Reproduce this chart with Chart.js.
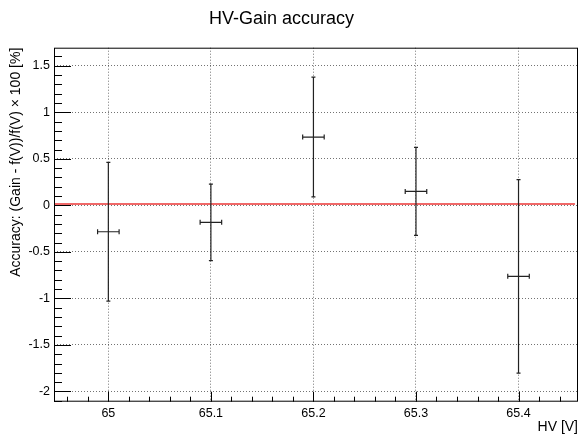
<!DOCTYPE html>
<html>
<head>
<meta charset="utf-8">
<script src="https://cdn.jsdelivr.net/npm/chart.js@4.4.1/dist/chart.umd.min.js"></script>
<style>
  body { margin: 0; background: #fff; }
  canvas { display: block; }
</style>
</head>
<body>
<canvas id="hv-chart" width="579" height="435"></canvas>
<script>
// measured points (HV in volts, accuracy in %)
var hv = [65.0, 65.1, 65.2, 65.3, 65.4];
var hvErr = [0.0105, 0.0105, 0.0105, 0.0105, 0.0105];
var accuracy = [-0.284, -0.183, 0.734, 0.150, -0.763];
var accuracyErr = [0.745, 0.41, 0.643, 0.472, 1.04];

// constant fit (red line)
var fitValue = 0.014;
var fitRange = [64.947, 65.455];

var xTickValues = [65.0, 65.1, 65.2, 65.3, 65.4];
var yTickValues = [-2, -1.5, -1, -0.5, 0, 0.5, 1, 1.5];

var FONT = "'Liberation Sans', Arial, Helvetica, sans-serif";

var points = hv.map(function (x, i) { return { x: x, y: accuracy[i] }; });
var fitLine = fitRange.map(function (x) { return { x: x, y: fitValue }; });

// error bars with end caps
var errorBars = {
    id: 'errorBars',
    afterDatasetsDraw: function (chart) {
        var ctx = chart.ctx;
        var xs = chart.scales.x, ys = chart.scales.y;
        ctx.save();
        ctx.strokeStyle = '#222';
        ctx.lineWidth = 1.2;
        hv.forEach(function (x, i) {
            var px = xs.getPixelForValue(x);
            var py = ys.getPixelForValue(accuracy[i]);
            var top = ys.getPixelForValue(accuracy[i] + accuracyErr[i]);
            var bot = ys.getPixelForValue(accuracy[i] - accuracyErr[i]);
            var left = xs.getPixelForValue(x - hvErr[i]);
            var right = xs.getPixelForValue(x + hvErr[i]);
            ctx.beginPath();
            ctx.moveTo(px, top); ctx.lineTo(px, bot);
            ctx.moveTo(px - 2, top); ctx.lineTo(px + 2, top);
            ctx.moveTo(px - 2, bot); ctx.lineTo(px + 2, bot);
            ctx.moveTo(left, py); ctx.lineTo(right, py);
            ctx.moveTo(left, py - 2.5); ctx.lineTo(left, py + 2.5);
            ctx.moveTo(right, py - 2.5); ctx.lineTo(right, py + 2.5);
            ctx.stroke();
        });
        ctx.restore();
    }
};

// frame, inner ticks, titles
var frame = {
    id: 'frame',
    afterDraw: function (chart) {
        var ctx = chart.ctx;
        var a = chart.chartArea;
        var xs = chart.scales.x, ys = chart.scales.y;
        ctx.save();
        ctx.strokeStyle = '#000';
        ctx.lineWidth = 1;
        ctx.strokeRect(a.left + 0.5, a.top + 0.5, a.right - a.left - 1, a.bottom - a.top - 1);

        ctx.beginPath();
        // y axis ticks, every 0.1, long ones on 0.5
        for (var i = -21; i <= 16; i++) {
            var py = Math.round(ys.getPixelForValue(i / 10)) + 0.5;
            var len = (i % 5 === 0) ? 17 : 8;
            ctx.moveTo(a.left, py); ctx.lineTo(a.left + len, py);
        }
        // x axis ticks, every 0.02, long ones on 0.1
        for (var j = 3248; j <= 3272; j++) {
            var px = Math.round(xs.getPixelForValue(j / 50)) + 0.5;
            var l2 = (j % 5 === 0) ? 10 : 5;
            ctx.moveTo(px, a.bottom); ctx.lineTo(px, a.bottom - l2);
        }
        ctx.stroke();

        ctx.fillStyle = '#000';
        ctx.font = '18px ' + FONT;
        ctx.textAlign = 'center';
        ctx.textBaseline = 'middle';
        ctx.fillText('HV-Gain accuracy', 281.5, 19);

        ctx.font = '14px ' + FONT;
        ctx.textAlign = 'right';
        ctx.fillText('HV [V]', a.right, 427);

        ctx.translate(16, a.top);
        ctx.rotate(-Math.PI / 2);
        ctx.textAlign = 'right';
        ctx.fillText('Accuracy: (Gain - f(V))/f(V) \u00d7 100 [%]', 0, 0);
        ctx.restore();
    }
};

var ctx = document.getElementById('hv-chart').getContext('2d');
var chart = new Chart(ctx, {
    type: 'scatter',
    data: {
        datasets: [{
            label: 'fit',
            type: 'line',
            data: fitLine,
            borderColor: '#f06868',
            borderWidth: 2,
            pointRadius: 0,
            fill: false
        }, {
            label: 'accuracy',
            data: points,
            pointRadius: 0,
            pointHoverRadius: 0
        }]
    },
    options: {
        responsive: false,
        animation: false,
        devicePixelRatio: 1,
        layout: { padding: { top: 47.7, right: 1, left: 0, bottom: 0 } },
        plugins: {
            legend: { display: false },
            tooltip: { enabled: false },
            title: { display: false }
        },
        scales: {
            x: {
                type: 'linear',
                min: 64.947,
                max: 65.458,
                afterBuildTicks: function (s) { s.ticks = xTickValues.map(function (v) { return { value: v }; }); },
                afterFit: function (s) { s.height = 33.3; },
                ticks: {
                    padding: 4,
                    color: '#000',
                    maxRotation: 0,
                    autoSkip: false,
                    font: { family: FONT, size: 12.5 },
                    callback: function (v) { return String(+v.toFixed(2)); }
                },
                grid: { color: 'rgba(0,0,0,0.55)', drawTicks: false, lineWidth: 1 },
                border: { display: false, dash: [1, 2] }
            },
            y: {
                min: -2.11,
                max: 1.694,
                afterBuildTicks: function (s) { s.ticks = yTickValues.map(function (v) { return { value: v }; }); },
                afterFit: function (s) { s.width = 54; },
                ticks: {
                    padding: 4,
                    color: '#000',
                    autoSkip: false,
                    font: { family: FONT, size: 12.5 },
                    callback: function (v) { return String(+v.toFixed(2)); }
                },
                grid: { color: 'rgba(0,0,0,0.55)', drawTicks: false, lineWidth: 1 },
                border: { display: false, dash: [1, 2] }
            }
        }
    },
    plugins: [errorBars, frame]
});
</script>
</body>
</html>
